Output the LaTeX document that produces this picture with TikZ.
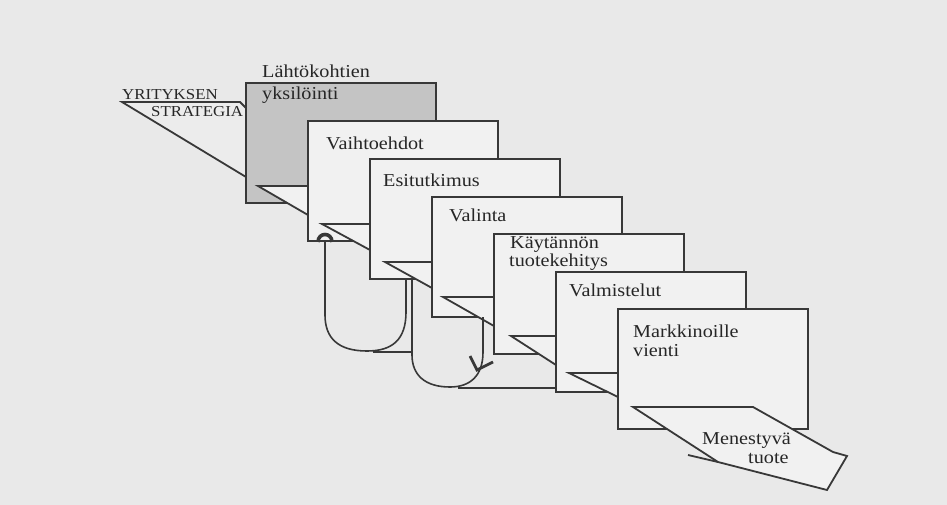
\documentclass[tikz,border=0pt]{standalone}
\usepackage{fontspec}
\setmainfont{Liberation Serif}[FakeStretch=1.11]
\definecolor{bgc}{HTML}{E9E9E9}
\definecolor{panelc}{HTML}{F1F1F1}
\definecolor{grayc}{HTML}{C4C4C4}
\definecolor{inkc}{HTML}{383838}
\definecolor{textc}{HTML}{262626}
\tikzset{
 ink/.style={draw=inkc, line width=1.8pt, line join=miter},
 panel/.style={ink, fill=panelc, minimum width=190pt, minimum height=120pt, anchor=north west, inner sep=0pt, outer sep=0pt},
 lbl/.style={anchor=base west, inner sep=0pt, text=textc, font=\fontsize{18.2}{20}\selectfont},
 smalllbl/.style={anchor=base west, inner sep=0pt, text=textc, font=\fontsize{15.2}{16}\selectfont},
}
\begin{document}
\begin{tikzpicture}[x=1pt,y=-1pt]
\fill[bgc] (0,0) rectangle (947,505);
\useasboundingbox (0,0) rectangle (947,505);

% strategy strip
\fill[panelc!40!bgc] (122,102) -- (240,102) -- (246,108) -- (246,177) -- cycle;
\draw[ink] (246,177) -- (122,102) -- (240,102) -- (246,108);
\node[smalllbl] (ys1) at (122,100) {YRITYKSEN};
\node[smalllbl] (ys2) at (151,117) {STRATEGIA};

% panel 1
\node[lbl] (t0) at (262,78) {Lähtökohtien};
\node[panel, fill=grayc] (p1) at (246,83) {};
\node[lbl] (t1) at (262,100) {yksilöinti};
\fill[panelc] (258,186) -- (308,186) -- (308,215) -- cycle;
\draw[ink] (308,186) -- (258,186) -- (308,215);

% panel 2
\node[panel] (p2) at (308,121) {};
\node[lbl] (t2) at (326,150) {Vaihtoehdot};
\fill[panelc] (322,224) -- (370,224) -- (370,250) -- cycle;
\draw[ink] (370,224) -- (322,224) -- (370,250);

% panel 3
\node[panel] (p3) at (370,159) {};
\node[lbl] (t3) at (383,186) {Esitutkimus};
\fill[panelc] (385,262) -- (432,262) -- (432,288) -- cycle;
\draw[ink] (432,262) -- (385,262) -- (432,288);

% panel 4
\node[panel] (p4) at (432,197) {};
\node[lbl] (t4) at (449,222) {Valinta};
\fill[panelc] (443,297) -- (494,297) -- (494,326) -- cycle;
\draw[ink] (494,297) -- (443,297) -- (494,326);

% panel 5
\node[panel] (p5) at (494,234) {};
\node[lbl] (t5a) at (510,248) {Käytännön};
\node[lbl] (t5b) at (509,266) {tuotekehitys};
\fill[panelc] (511,336) -- (556,336) -- (556,365) -- cycle;
\draw[ink] (556,336) -- (511,336) -- (556,365);

% panel 6
\node[panel] (p6) at (556,272) {};
\node[lbl] (t6) at (569,296) {Valmistelut};
\fill[panelc] (569,373) -- (618,373) -- (618,397) -- cycle;
\draw[ink] (618,373) -- (569,373) -- (618,397);

% panel 7
\node[panel] (p7) at (618,309) {};
\node[lbl] (t7a) at (633,337) {Markkinoille};
\node[lbl] (t7b) at (633,356) {vienti};

% final strip
\filldraw[ink, fill=panelc] (633,407) -- (753,407) -- (833,452) -- (847,456) -- (827,490) -- (718,462) -- cycle;
\draw[ink] (688,455) -- (718,462);
\node[lbl] (t8a) at (702,444) {Menestyvä};
\node[lbl] (t8b) at (748,463) {tuote};

% feedback loop 1 (to Vaihtoehdot)
\coordinate (l1s) at (406,279);
\coordinate (l1e) at (325,241);
\draw[ink, line width=1.6pt] (l1s) -- (406,312) .. controls (406,340) and (392,351) .. (367,351)
   .. controls (338,351) and (325,338) .. (325,315) -- (l1e);
\draw[draw=inkc, line width=3.6pt] (318,242) .. controls (318,232) and (332,232) .. (332,242);
\draw[ink, line width=1.6pt] (373,352) -- (412,352);

% feedback loop 2
\coordinate (l2s) at (483,317);
\coordinate (l2e) at (412,279);
\draw[ink, line width=1.6pt] (l2s) -- (483,352) .. controls (483,376) and (470,387) .. (450,387)
   .. controls (425,387) and (412,375) .. (412,355) -- (l2e);
\draw[draw=inkc, line width=2.8pt] (470,356) -- (477,370) -- (493,362);
\draw[ink, line width=1.6pt] (458,388) -- (556,388);
\end{tikzpicture}
\end{document}
